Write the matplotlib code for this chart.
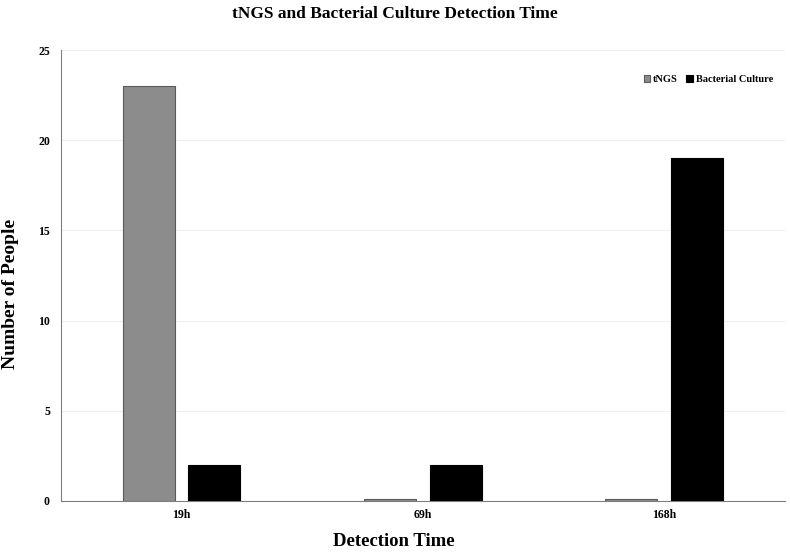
import numpy as np
import matplotlib
matplotlib.use("Agg")
import matplotlib.pyplot as plt

# Datos
categorias = ["19h", "69h", "168h"]
tngs = [23, 0.1, 0.1]
cultivo = [2, 2, 19]

plt.rcParams["font.family"] = ["Liberation Serif", "DejaVu Serif"]
plt.rcParams["font.weight"] = "bold"

fig = plt.figure(figsize=(7.9, 5.52), dpi=100)
ax = fig.add_axes([0.0772, 0.0924, 0.916, 0.817])

x = np.arange(len(categorias))
ancho = 0.215
ax.bar(x - 0.136, tngs, ancho, color="#8c8c8c", edgecolor="#5a5a5a",
       linewidth=0.8, label="tNGS", zorder=3)
ax.bar(x + 0.136, cultivo, ancho, color="black", edgecolor="black",
       linewidth=0.8, label="Bacterial Culture", zorder=3)

ax.set_xlim(-0.5, len(categorias) - 0.5)
ax.set_ylim(0, 25)
ax.set_yticks([0, 5, 10, 15, 20, 25])
ax.set_xticks(x)
ax.set_xticklabels(categorias)
ax.tick_params(axis="both", length=0, labelsize=8.5)
ax.tick_params(axis="x", pad=6)
ax.tick_params(axis="y", pad=8)
for lbl in ax.get_xticklabels() + ax.get_yticklabels():
    lbl.set_fontweight("bold")

ax.grid(axis="y", color="#f0f0f0", linewidth=0.8, zorder=0)
ax.spines["top"].set_visible(False)
ax.spines["right"].set_visible(False)
ax.spines["left"].set_color("#7f7f7f")
ax.spines["bottom"].set_color("#7f7f7f")

ax.set_xlabel("Detection Time", fontsize=13.5, fontweight="bold")
ax.set_ylabel("Number of People", fontsize=14, fontweight="bold")
ax.xaxis.set_label_coords(0.46, -0.07)
ax.yaxis.set_label_coords(-0.058, 0.459)
fig.suptitle("tNGS and Bacterial Culture Detection Time", fontsize=12.5,
             fontweight="bold", y=0.99)

leg = ax.legend(loc="upper right", bbox_to_anchor=(0.997, 0.965), frameon=False,
                ncol=2, handlelength=0.6, handleheight=0.6,
                handletextpad=0.3, columnspacing=0.8,
                prop={"weight": "bold", "size": 7.5})

fig.savefig("out.png", dpi=100)
